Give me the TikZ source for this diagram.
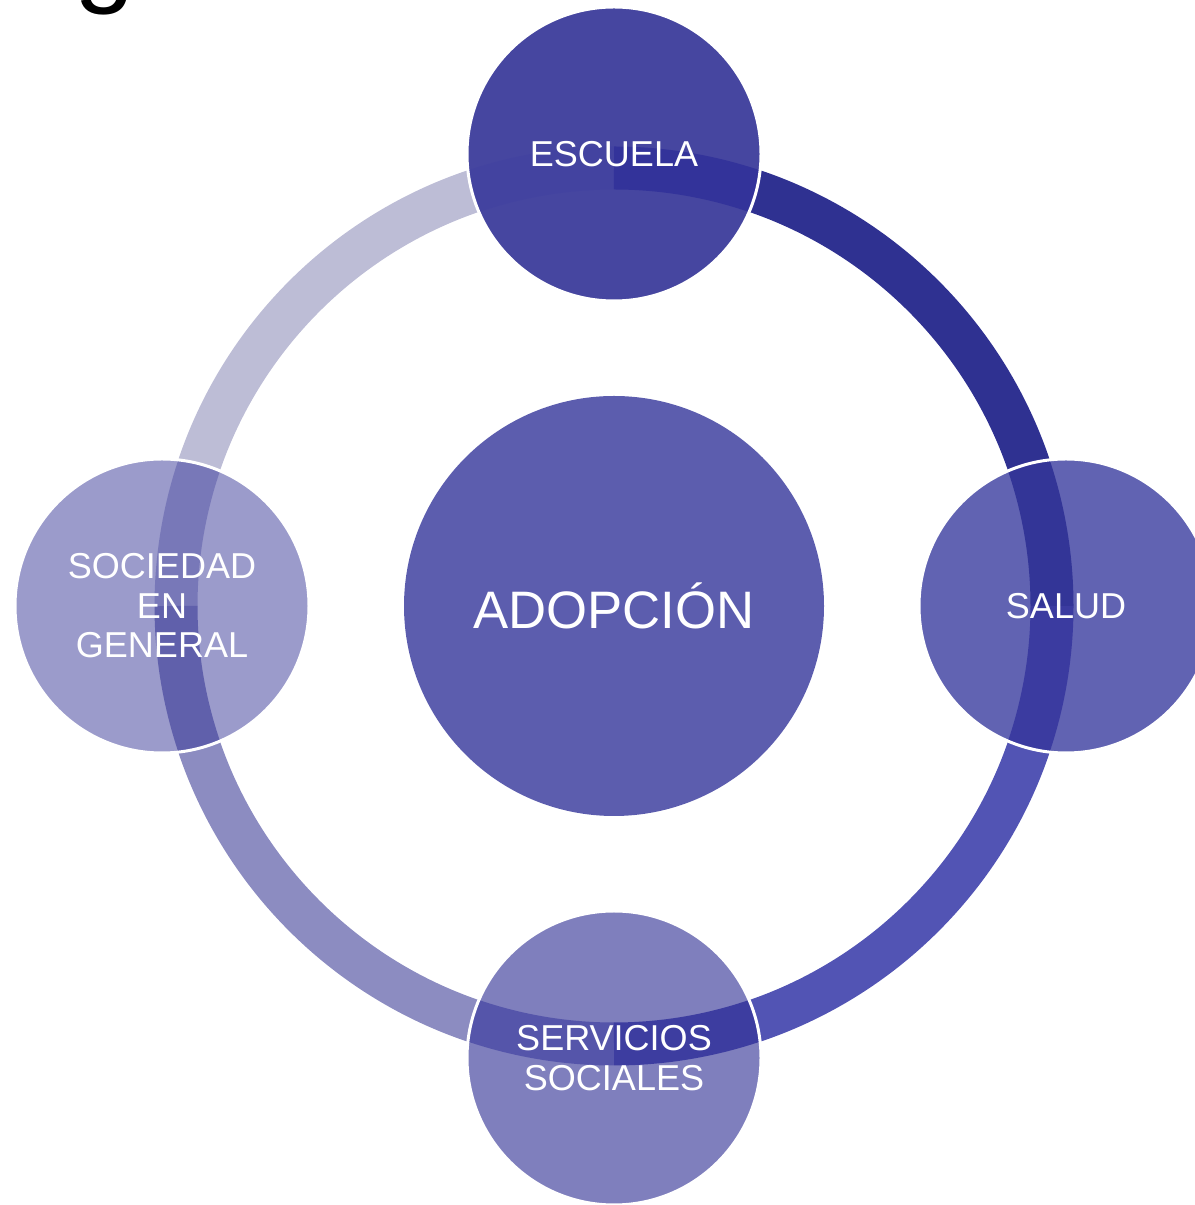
\documentclass[tikz,border=0pt]{standalone}
\usepackage{fontspec}
\setmainfont{Liberation Sans}
\definecolor{arcoA}{HTML}{2F3191}
\definecolor{arcoB}{HTML}{5254B4}
\definecolor{arcoC}{HTML}{8C8CC1}
\definecolor{arcoD}{HTML}{BDBDD6}
\definecolor{centro}{HTML}{5C5DAE}
\definecolor{escuela}{HTML}{4646A0}
\definecolor{salud}{HTML}{6163B2}
\definecolor{servicios}{HTML}{7F7FBD}
\definecolor{sociedad}{HTML}{9B9BCB}
\begin{document}
\begin{tikzpicture}[x=0.2mm, y=0.2mm,
    anillo/.style={line width=8.6mm},
    satelite/.style={circle, minimum size=58.8mm, inner sep=0pt, draw=white, line width=0.6mm,
        text=white, align=center, font=\fontsize{20.5}{22.5}\selectfont}]
    \useasboundingbox (0,0) rectangle (1195,1205);
    \clip (0,0) rectangle (1195,1205);
    \coordinate (o) at (614,599); % centro del anillo

    % Titulo cortado
    \node[anchor=base west, inner sep=0pt, font=\fontsize{62}{70}\selectfont] (titulo) at (74,1212) {g};

    % Anillo
    \foreach \a/\col in {90/arcoA, 0/arcoB, -90/arcoC, 180/arcoD} {
        \draw[anillo, \col] (o) ++(\a:438) arc[start angle=\a, delta angle=-90, radius=438];
    }

    % Centro
    \node[circle, minimum size=84mm, inner sep=0pt, fill=centro, text=white,
        font=\fontsize{30}{36}\selectfont] (adopcion) at (o) {ADOPCIÓN};

    % Circulos
    \node[satelite, fill=escuela, path picture={
        \draw[anillo, color={rgb,255:red,67;green,67;blue,160}] (o) ++(90:438) arc[start angle=90, end angle=112, radius=438];
        \draw[anillo, color={rgb,255:red,51;green,51;blue,154}] (o) ++(68:438) arc[start angle=68, end angle=90, radius=438];
    }] (escuela) at (614,1051) {ESCUELA};
    \node[satelite, fill=salud, path picture={
        \draw[anillo, color={rgb,255:red,51;green,53;blue,151}] (o) ++(0:438) arc[start angle=0, end angle=22, radius=438];
        \draw[anillo, color={rgb,255:red,59;green,59;blue,160}] (o) ++(-22:438) arc[start angle=-22, end angle=0, radius=438];
    }] (salud) at (1066,599) {SALUD};
    \node[satelite, fill=servicios, path picture={
        \draw[anillo, color={rgb,255:red,85;green,85;blue,170}] (o) ++(248:438) arc[start angle=248, end angle=270, radius=438];
        \draw[anillo, color={rgb,255:red,61;green,61;blue,160}] (o) ++(270:438) arc[start angle=270, end angle=292, radius=438];
    }] (servicios) at (614,147) {SERVICIOS\\SOCIALES};
    \node[satelite, fill=sociedad, path picture={
        \draw[anillo, color={rgb,255:red,120;green,120;blue,184}] (o) ++(158:438) arc[start angle=158, end angle=180, radius=438];
        \draw[anillo, color={rgb,255:red,96;green,96;blue,171}] (o) ++(180:438) arc[start angle=180, end angle=202, radius=438];
    }] (sociedad) at (162,599) {SOCIEDAD\\EN\\GENERAL};
\end{tikzpicture}
\end{document}
